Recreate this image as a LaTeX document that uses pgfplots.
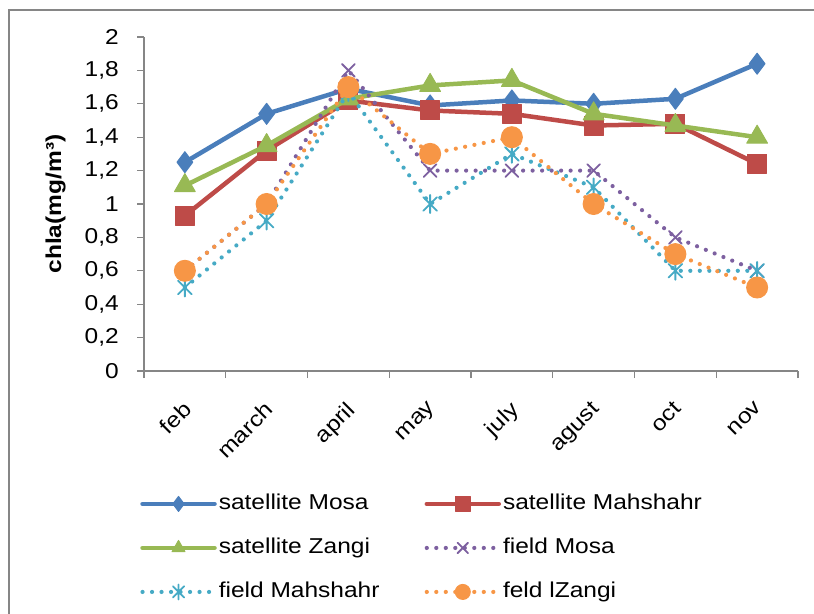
\documentclass[border=0pt]{standalone}
\usepackage{fontspec}
\setmainfont{Liberation Sans}[FakeStretch=1.14]
\usepackage{pgfplots}
\pgfplotsset{compat=1.18}

\definecolor{cMosa}{HTML}{4A7EBB}
\definecolor{cMah}{HTML}{BE4B48}
\definecolor{cZan}{HTML}{98B954}
\definecolor{fMosa}{HTML}{7D60A0}
\definecolor{fMah}{HTML}{46AAC5}
\definecolor{fZan}{HTML}{F79646}
\definecolor{axgray}{HTML}{868686}

\newcommand{\chartfont}{\fontsize{21.5bp}{25bp}\selectfont}

% asterisk made of a vertical stroke and two diagonals
\pgfdeclareplotmark{xast}{%
  \pgfpathmoveto{\pgfpoint{0pt}{\pgfplotmarksize}}%
  \pgfpathlineto{\pgfpoint{0pt}{-\pgfplotmarksize}}%
  \pgfpathmoveto{\pgfpoint{0.75\pgfplotmarksize}{0.75\pgfplotmarksize}}%
  \pgfpathlineto{\pgfpoint{-0.75\pgfplotmarksize}{-0.75\pgfplotmarksize}}%
  \pgfpathmoveto{\pgfpoint{-0.75\pgfplotmarksize}{0.75\pgfplotmarksize}}%
  \pgfpathlineto{\pgfpoint{0.75\pgfplotmarksize}{-0.75\pgfplotmarksize}}%
  \pgfusepathqstroke}

\pgfplotsset{
  sat/.style={line width=4.5bp, line join=round, line cap=round},
  fld/.style={line width=4.2bp, dash pattern=on 0bp off 9.5bp, line cap=round},
}

\begin{document}
\begin{tikzpicture}[font=\chartfont]
\useasboundingbox (0,0) rectangle (814bp,614bp);
\draw[axgray, line width=1.2bp] (9bp,-20bp) -- (9bp,604bp) -- (840bp,604bp);
\begin{axis}[
  at={(144bp,243bp)}, anchor=south west,
  scale only axis, width=654bp, height=334bp,
  xmin=-0.5, xmax=7.5, ymin=0, ymax=2,
  clip mode=individual,
  axis x line*=bottom, axis y line*=left,
  axis line style={axgray, line width=1.3bp},
  tick align=outside, major tick length=7bp,
  tick style={axgray, line width=1.3bp},
  tick label style={font=\chartfont},
  xtick={-0.5,0.5,1.5,2.5,3.5,4.5,5.5,6.5,7.5},
  xticklabels={},
  extra x ticks={0,1,2,3,4,5,6,7},
  extra x tick labels={feb,march,april,may,july,agust,oct,nov},
  extra x tick style={major tick length=0pt,
    xticklabel style={xshift=-3bp, yshift=-29bp, rotate=45, anchor=north east, inner sep=0pt}},
  ytick={0,0.2,0.4,0.6,0.8,1,1.2,1.4,1.6,1.8,2},
  yticklabels={0,{0,2},{0,4},{0,6},{0,8},1,{1,2},{1,4},{1,6},{1,8},2},
  yticklabel style={anchor=east, inner sep=0pt, xshift=-18bp},
  legend columns=2,
  legend cell align=left,
  legend style={draw=none, fill=none, font=\chartfont, at={(axis description cs:-0.006,-0.36)},
    anchor=north west, inner sep=0pt, row sep=19bp,
    nodes={inner sep=2bp, text height=16bp, text depth=5bp},
    /tikz/every even column/.append style={column sep=43bp}},
  legend image code/.code={\draw[mark repeat=2, mark phase=2, #1, mark size=7.5bp]
    plot coordinates {(0bp,0bp) (36bp,0bp) (72bp,0bp)};},
]
\addplot[sat, color=cMosa, mark=diamond*, mark size=10.5bp, mark options={solid, line width=1bp}]
  coordinates {(0,1.25)(1,1.54)(2,1.69)(3,1.59)(4,1.62)(5,1.60)(6,1.63)(7,1.84)};
\addlegendentry{satellite Mosa}
\addplot[sat, color=cMah, mark=square*, mark size=9.5bp, mark options={solid, line width=1bp}]
  coordinates {(0,0.93)(1,1.32)(2,1.62)(3,1.56)(4,1.54)(5,1.47)(6,1.48)(7,1.24)};
\addlegendentry{satellite Mahshahr}
\addplot[sat, color=cZan, mark=triangle*, mark size=12bp, mark options={solid, line width=1bp}]
  coordinates {(0,1.11)(1,1.35)(2,1.63)(3,1.71)(4,1.74)(5,1.54)(6,1.47)(7,1.40)};
\addlegendentry{satellite Zangi}
\addplot[fld, color=fMosa, mark=x, mark size=9bp, mark options={solid, line width=1.8bp}]
  coordinates {(0,0.6)(1,1.0)(2,1.8)(3,1.2)(4,1.2)(5,1.2)(6,0.8)(7,0.6)};
\addlegendentry{field Mosa}
\addplot[fld, color=fMah, mark=xast, mark size=9bp, mark options={solid, line width=1.8bp}]
  coordinates {(0,0.5)(1,0.9)(2,1.67)(3,1.0)(4,1.3)(5,1.1)(6,0.6)(7,0.6)};
\addlegendentry{field Mahshahr}
\addplot[fld, color=fZan, mark=*, mark size=10.5bp, mark options={solid, line width=1bp}]
  coordinates {(0,0.6)(1,1.0)(2,1.7)(3,1.3)(4,1.4)(5,1.0)(6,0.7)(7,0.5)};
\addlegendentry{feld lZangi}
\node[rotate=90, font=\chartfont\bfseries] at (axis description cs:-0.135,0.5) {chla(mg/m³)};
\end{axis}
\end{tikzpicture}
\end{document}
